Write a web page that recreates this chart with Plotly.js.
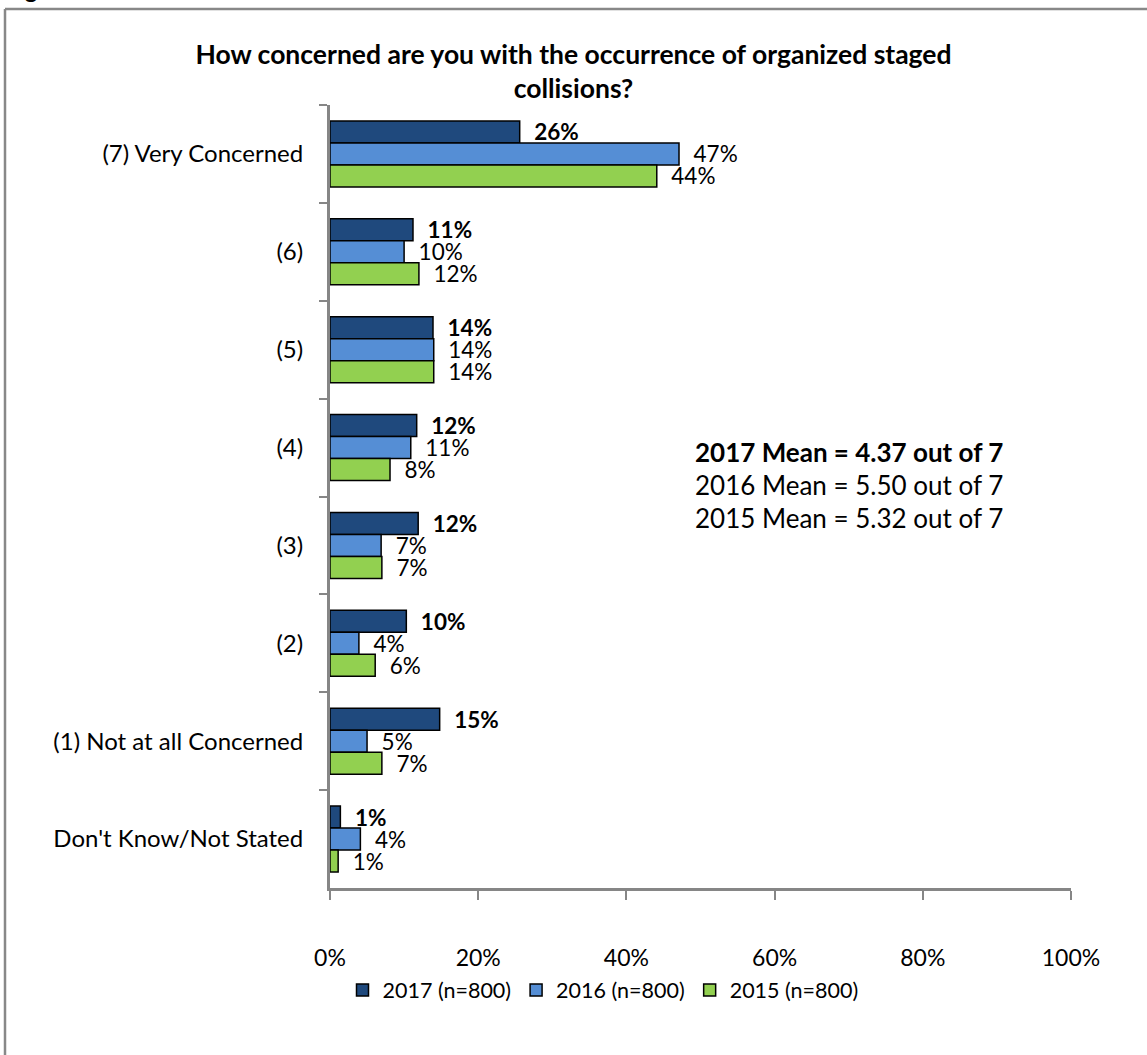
<!DOCTYPE html>
<html>
<head>
<meta charset="utf-8">
<script src="https://cdn.plot.ly/plotly-3.0.1.min.js"></script>
<style>html,body{margin:0;padding:0;background:#fff;}#chart{width:1147px;height:1055px;}</style>
</head>
<body>
<div id="chart"></div>
<script>
const categories = ["(7) Very Concerned", "(6)", "(5)", "(4)", "(3)", "(2)", "(1) Not at all Concerned", "Don't Know/Not Stated"];
const seriesNames = ["2017 (n=800)", "2016 (n=800)", "2015 (n=800)"];
const values2017 = [25.6, 11.2, 13.9, 11.7, 11.9, 10.3, 14.8, 1.4];
const values2016 = [47.1, 10.0, 14.0, 10.9, 6.9, 3.9, 5.0, 4.1];
const values2015 = [44.1, 12.0, 14.0, 8.1, 7.0, 6.1, 7.0, 1.1];
const xTicks = [0, 20, 40, 60, 80, 100];
const meanLines = ["<b>2017 Mean = 4.37 out of 7</b>", "2016 Mean = 5.50 out of 7", "2015 Mean = 5.32 out of 7"];
const titleText = "<b>How concerned are you with the occurrence of organized staged<br>collisions?</b>";

const colors = ["#1F497D", "#558ED5", "#92D050"];
const FONT = "Lato, Carlito, Calibri, 'Liberation Sans', sans-serif";
const pad = "\u00a0\u00a0";

const allValues = [values2017, values2016, values2015];
const traces = allValues.map((vals, i) => ({
  type: "bar",
  orientation: "h",
  name: seriesNames[i],
  x: vals,
  y: categories,
  marker: {color: colors[i], line: {color: "#000000", width: 1.5}},
  texttemplate: i === 0 ? pad + "<b>%{x:.0f}%</b>" : pad + "%{x:.0f}%",
  textposition: "outside",
  constraintext: "none",
  cliponaxis: false,
  textfont: {family: FONT, size: 22.5, color: "#000000"},
  hoverinfo: "skip"
}));

const meanY = [0.557, 0.515, 0.4725];
const annotations = meanLines.map((t, i) => ({
  text: t, xref: "paper", yref: "paper", x: 0.49, y: meanY[i],
  xanchor: "left", yanchor: "middle", showarrow: false,
  font: {family: FONT, size: 26, color: "#000000"}
}));
annotations.push({
  text: "<b>Figure 11</b>", xref: "paper", yref: "paper",
  x: (3 - 330) / 741, y: (888 - 5) / 783, xanchor: "left", yanchor: "bottom",
  showarrow: false, font: {family: FONT, size: 24, color: "#000000"}
});

const layout = {
  width: 1147, height: 1055,
  margin: {l: 330, r: 76, t: 105, b: 167},
  paper_bgcolor: "#ffffff", plot_bgcolor: "#ffffff",
  barmode: "group", bargap: 0.325, bargroupgap: 0,
  showlegend: true,
  title: {
    text: titleText, x: 0.5, xref: "container", xanchor: "center",
    y: 1 - 64 / 1055, yref: "container", yanchor: "top",
    font: {family: FONT, size: 26.5, color: "#000000"}
  },
  font: {family: FONT, color: "#000000"},
  xaxis: {
    range: [0, 100], tickvals: xTicks, ticktext: xTicks.map(v => v + "%"),
    showgrid: false, zeroline: false, showline: true, linecolor: "#868686", linewidth: 3,
    ticks: "outside", ticklen: 9, tickwidth: 2, tickcolor: "#868686",
    ticklabelstandoff: 38,
    tickfont: {family: FONT, size: 23, color: "#000000"}, fixedrange: true
  },
  yaxis: {
    type: "category", categoryorder: "array", categoryarray: categories,
    autorange: "reversed",
    showgrid: false, zeroline: false, showline: true, linecolor: "#868686", linewidth: 3,
    ticks: "outside", tickson: "boundaries", ticklen: 8, tickwidth: 2, tickcolor: "#868686",
    ticklabelstandoff: 19,
    tickfont: {family: FONT, size: 24, color: "#000000"}, fixedrange: true
  },
  legend: {
    orientation: "h", x: (603 - 330) / 741, xanchor: "center", y: (888 - 990) / 783, yanchor: "middle",
    bgcolor: "rgba(0,0,0,0)",
    font: {family: FONT, size: 21.5, color: "#000000"}, traceorder: "normal"
  },
  annotations: annotations,
  shapes: [
    {type: "line", xref: "paper", yref: "paper", x0: (5 - 330) / 741, x1: (5 - 330) / 741,
     y0: (888 - 9) / 783, y1: (888 - 1100) / 783, line: {color: "#888888", width: 2.5}},
    {type: "line", xref: "paper", yref: "paper", x0: (5 - 330) / 741, x1: (1200 - 330) / 741,
     y0: (888 - 9) / 783, y1: (888 - 9) / 783, line: {color: "#888888", width: 2.5}}
  ]
};

Plotly.newPlot("chart", traces, layout, {displayModeBar: false, staticPlot: true});
</script>
</body>
</html>
